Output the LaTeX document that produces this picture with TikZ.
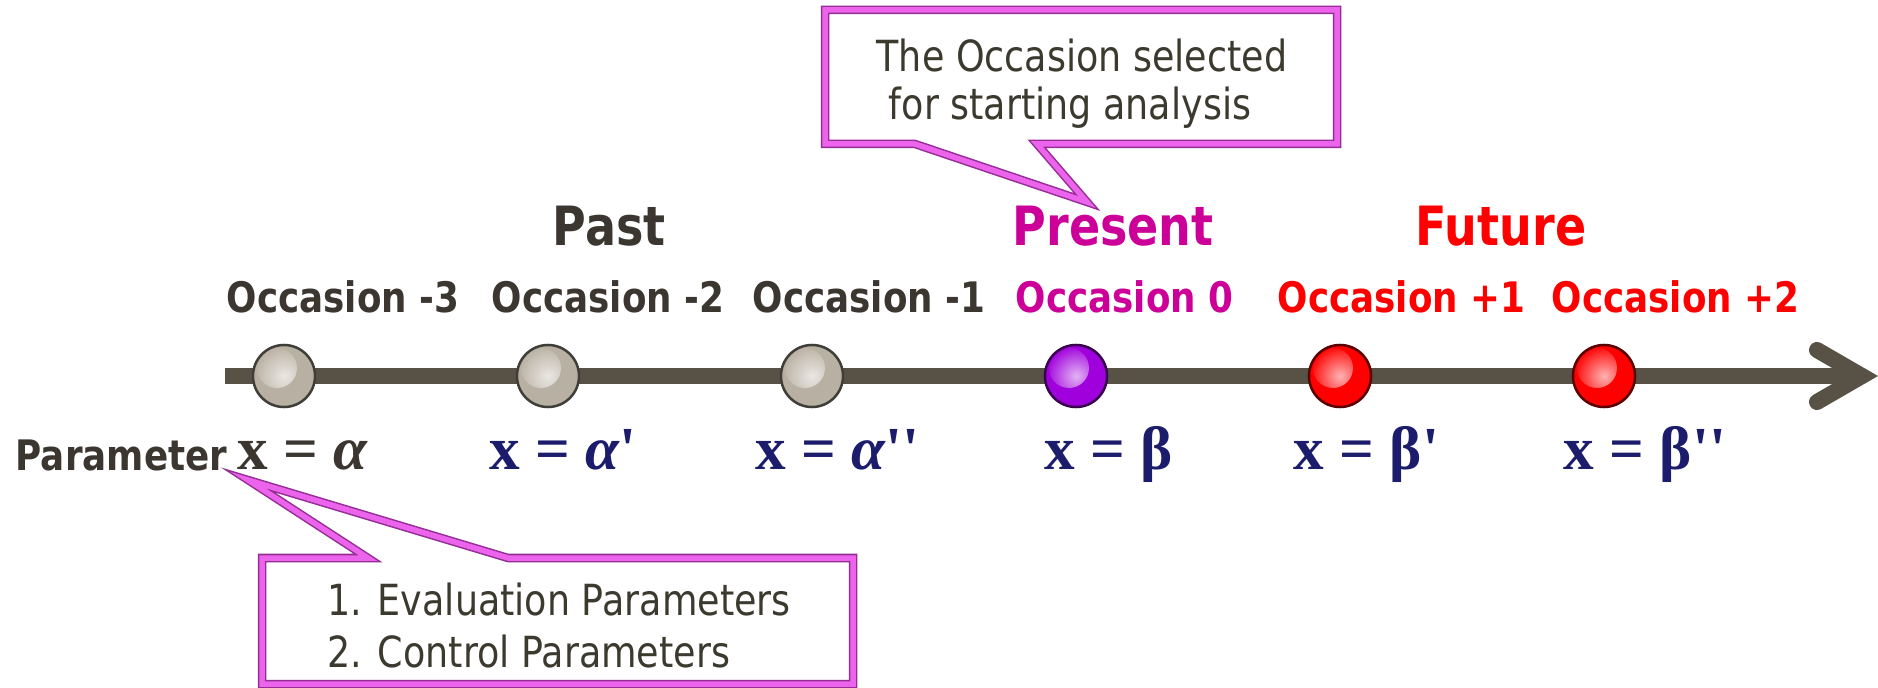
\documentclass[tikz,border=0pt]{standalone}
\usepackage{fontspec}
\setsansfont{DejaVu Sans}[FakeStretch=0.85]
\newfontfamily\eqfont{Liberation Serif}

\definecolor{axisgray}{RGB}{88,81,70}
\definecolor{pastgray}{RGB}{60,54,48}
\definecolor{presentmag}{RGB}{204,0,153}
\definecolor{futurered}{RGB}{255,0,0}
\definecolor{eqnavy}{RGB}{28,28,108}
\definecolor{calloutpink}{RGB}{236,100,236}
\definecolor{calloutdark}{RGB}{150,45,150}
\definecolor{notetext}{RGB}{60,58,46}
\definecolor{ballgray}{RGB}{184,176,162}
\definecolor{ballpurple}{RGB}{160,0,220}
\definecolor{ballred}{RGB}{255,0,0}

\tikzset{
  axisline/.style={axisgray, line width=0.16cm},
  ball/.style={circle, minimum size=0.62cm, inner sep=0pt, fill=#1, draw=#1!35!black, line width=0.025cm,
    path picture={\shade[inner color=#1!30!white, outer color=#1] ([shift={(-0.07cm,0.08cm)}]path picture bounding box.center) circle (0.2cm);}},
  occ/.style={font=\sffamily\bfseries\fontsize{11.95}{14}\selectfont, anchor=base west, inner sep=0pt},
  era/.style={font=\sffamily\bfseries\fontsize{15.4}{18}\selectfont, anchor=base west, inner sep=0pt},
  eq/.style={font=\eqfont\bfseries\fontsize{17.4}{20}\selectfont, text=eqnavy, anchor=base west, inner sep=0pt},
  note/.style={font=\sffamily\fontsize{12.2}{14.2}\selectfont, text=notetext, inner sep=0pt},
  callout/.style={fill=white, draw=calloutdark, line width=0.015cm, double=calloutpink, double distance=0.055cm, line join=miter},
}

\begin{document}
\begin{tikzpicture}[x=0.01cm, y=-0.01cm]
    \useasboundingbox (0,0) rectangle (1878,688);
    \clip (0,0) rectangle (1878,688);

    % Callouts
    \draw[callout] (825,10) -- (1337,10) -- (1337,144) -- (1037,144) -- (1087,202) -- (915,144) -- (825,144) -- cycle;
    \node[note, anchor=base] (sel1) at (1082,72) {The Occasion selected};
    \node[note, anchor=base] (sel2) at (1070,120) {for starting analysis};

    \draw[callout] (262,558) -- (368,558) -- (248,480) -- (508,558) -- (853,558) -- (853,684) -- (262,684) -- cycle;
    \node[note, anchor=base west] (par1) at (327,615) {1. Evaluation Parameters};
    \node[note, anchor=base west] (par2) at (327,667) {2. Control Parameters};

    % Time axis
    \coordinate (axstart) at (225,376);
    \coordinate (tip) at (1862,376);
    \draw[axisline] (axstart) -- (tip);
    \draw[axisline, line cap=round, line join=miter] ([shift={(-45,-26)}]tip) -- (tip) -- ([shift={(-45,26)}]tip);

    % Occasions
    \foreach \i/\x/\c in {1/284/ballgray, 2/548/ballgray, 3/812/ballgray, 4/1076/ballpurple, 5/1340/ballred, 6/1604/ballred}
        \node[ball=\c] (s\i) at (\x,376) {};
    \foreach \i/\x/\n/\c in {1/226/-3/pastgray, 2/491/-2/pastgray, 3/752/-1/pastgray, 4/1015/0/presentmag, 5/1277/+1/futurered, 6/1551/+2/futurered}
        \node[occ, text=\c] (occ\i) at (\x,313) {Occasion \n};

    % Past, present, future
    \node[era, text=pastgray] (past) at (552,246) {Past};
    \node[era, text=presentmag] (present) at (1012,246) {Present};
    \node[era, text=futurered] (future) at (1415,246) {Future};

    % Parameter values
    \node[occ, text=pastgray] (param) at (15,470) {Parameter};
    \node[eq, text=pastgray] (eq1) at (237,469) {x = {\itshape α}};
    \node[eq] (eq2) at (489,469) {x = {\itshape α}'};
    \node[eq] (eq3) at (755,469) {x = {\itshape α}''};
    \node[eq] (eq4) at (1044,469) {x = β};
    \node[eq] (eq5) at (1293,469) {x = β'};
    \node[eq] (eq6) at (1563,469) {x = β''};
\end{tikzpicture}
\end{document}
